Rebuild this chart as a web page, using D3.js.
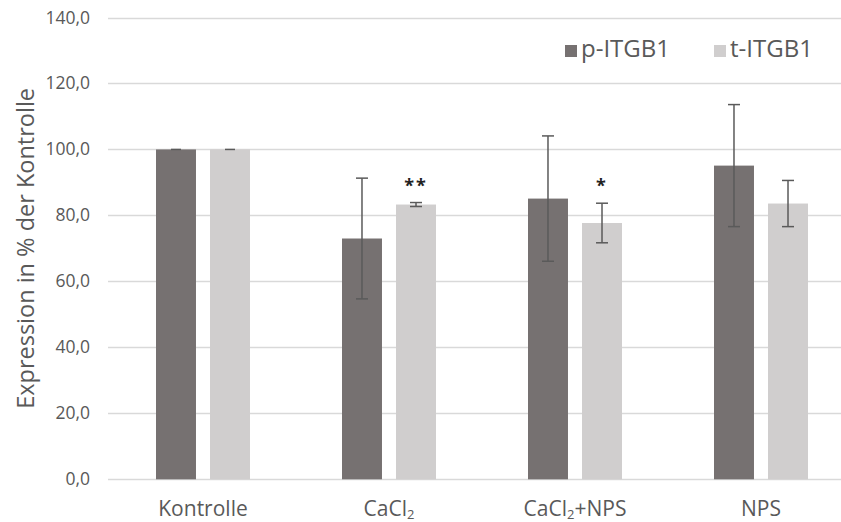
<!DOCTYPE html>
<meta charset="utf-8">
<style>
body { margin: 0; background: #fff; }
text { font-family: "Open Sans", "Noto Sans", sans-serif; fill: #595959; }
.grid line { stroke: #d9d9d9; stroke-width: 1.5; }
.err { stroke: #5a5a5a; stroke-width: 1.5; }
</style>
<svg id="chart" width="841" height="522"></svg>
<script src="https://d3js.org/d3.v7.min.js"></script>
<script>

// data
var categories = ["Kontrolle", "CaCl2", "CaCl2+NPS", "NPS"];
var series = ["p-ITGB1", "t-ITGB1"];
var pValues = [100, 73.0, 85.1, 95.1];
var pErrors = [0, 18.3, 19.0, 18.5];
var tValues = [100, 83.3, 77.7, 83.6];
var tErrors = [0, 0.6, 6.0, 7.0];
var stars = ["", "**", "*", ""];
var yTicks = [0, 20, 40, 60, 80, 100, 120, 140];

var colors = { "p-ITGB1": "#767171", "t-ITGB1": "#d0cece" };

var svg = d3.select("#chart"),
    width = +svg.attr("width"),
    height = +svg.attr("height");

var x0 = d3.scaleBand().domain(categories).range([110, 854]).paddingInner(0).paddingOuter(0);
var x1 = d3.scaleBand().domain(series).range([0, 94]).paddingInner(0.26);
var y = d3.scaleLinear().domain([0, 140]).range([479.3, 17.5]);

// grid
svg.append("g").attr("class", "grid")
  .selectAll("line").data(yTicks).enter().append("line")
  .attr("x1", 108).attr("x2", width)
  .attr("y1", function(d) { return Math.round(y(d)) + 0.5; })
  .attr("y2", function(d) { return Math.round(y(d)) + 0.5; });

// y labels
svg.append("g").selectAll("text").data(yTicks).enter().append("text")
  .attr("x", 90).attr("y", function(d) { return y(d) + 6; })
  .attr("text-anchor", "end").style("font-size", "17.5px")
  .text(function(d) { return d3.format(".1f")(d).replace(".", ","); });

// y title
svg.append("text")
  .attr("transform", "translate(34," + y(70) + ") rotate(-90)")
  .attr("text-anchor", "middle").style("font-size", "23.5px")
  .text("Expression in % der Kontrolle");

var rows = categories.map(function(c, i) {
  return [
    { cat: c, s: "p-ITGB1", v: pValues[i], e: pErrors[i], star: "" },
    { cat: c, s: "t-ITGB1", v: tValues[i], e: tErrors[i], star: stars[i] }
  ];
});

var groups = svg.append("g").selectAll("g").data(rows).enter().append("g")
  .attr("transform", function(d) { return "translate(" + (x0(d[0].cat) + x0.bandwidth() / 2 - 47) + ",0)"; });

var bars = groups.selectAll("g").data(function(d) { return d; }).enter().append("g");

bars.append("rect")
  .attr("x", function(d) { return x1(d.s); })
  .attr("width", x1.bandwidth())
  .attr("y", function(d) { return y(d.v); })
  .attr("height", function(d) { return y(0) - y(d.v); })
  .attr("fill", function(d) { return colors[d.s]; });

// error bars
bars.filter(function(d) { return d.e > 0; }).each(function(d) {
  var g = d3.select(this), cx = x1(d.s) + x1.bandwidth() / 2;
  g.append("line").attr("class", "err")
    .attr("x1", cx).attr("x2", cx).attr("y1", y(d.v + d.e)).attr("y2", y(d.v - d.e));
  [d.v + d.e, d.v - d.e].forEach(function(v) {
    g.append("line").attr("class", "err")
      .attr("x1", cx - 6).attr("x2", cx + 6).attr("y1", y(v)).attr("y2", y(v));
  });
});

// kontrolle tiny caps
bars.filter(function(d) { return d.e === 0; }).append("line").attr("class", "err")
  .attr("x1", function(d) { return x1(d.s) + x1.bandwidth() / 2 - 5; })
  .attr("x2", function(d) { return x1(d.s) + x1.bandwidth() / 2 + 5; })
  .attr("y1", function(d) { return y(d.v); }).attr("y2", function(d) { return y(d.v); });

// significance stars
bars.filter(function(d) { return d.star; }).append("text")
  .attr("x", function(d) { return x1(d.s) + x1.bandwidth() / 2; })
  .attr("y", function(d) { return y(d.v + d.e) - 11; })
  .attr("text-anchor", "middle").style("font-size", "18px").style("font-weight", "bold")
  .style("letter-spacing", "2px").style("fill", "#222")
  .text(function(d) { return d.star; });

// x labels
var xl = svg.append("g").selectAll("text").data(categories).enter().append("text")
  .attr("x", function(d) { return x0(d) + x0.bandwidth() / 2; })
  .attr("y", 516).attr("text-anchor", "middle").style("font-size", "21px");
xl.each(function(d) {
  var t = d3.select(this);
  var m = d.match(/^CaCl2(.*)$/);
  if (m) {
    t.append("tspan").text("CaCl");
    t.append("tspan").attr("dy", 3).style("font-size", "13px").text("2");
    if (m[1]) t.append("tspan").attr("dy", -3).text(m[1]);
  } else {
    t.text(d);
  }
});

// legend
var leg = svg.append("g").selectAll("g").data(series).enter().append("g")
  .attr("transform", function(d, i) { return "translate(" + (565 + i * 149) + ",45)"; });
leg.append("rect").attr("width", 12).attr("height", 12)
  .attr("fill", function(d) { return colors[d]; });
leg.append("text").attr("x", 16).attr("y", 12).style("font-size", "24px")
  .text(function(d) { return d; });

</script>
